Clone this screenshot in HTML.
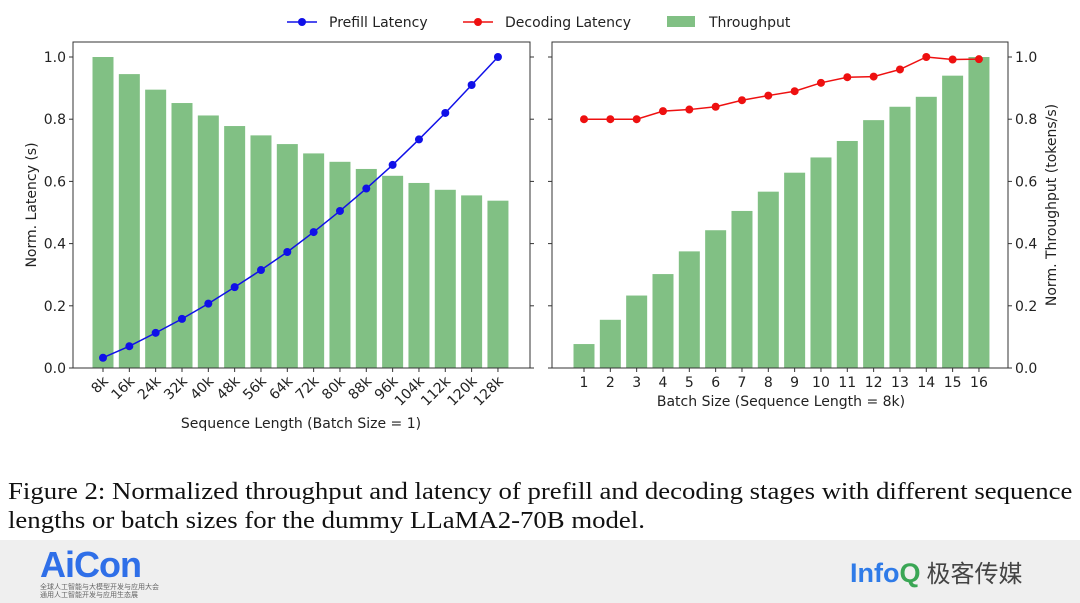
<!DOCTYPE html>
<html><head><meta charset="utf-8"><style>
body{margin:0;width:1080px;height:603px;background:#fff;overflow:hidden;position:relative;font-family:"DejaVu Sans","Liberation Sans",sans-serif}
svg text{font-family:"DejaVu Sans","Liberation Sans",sans-serif;fill:#222}
.cap{position:absolute;left:8px;top:478px;font-family:"Liberation Serif",serif;font-size:24px;line-height:29px;color:#111;white-space:nowrap;transform-origin:0 0;transform:scaleX(1.115)}
.foot{position:absolute;left:0;top:540px;width:1080px;height:63px;background:#efefef}
</style></head><body>
<svg id="chart" width="1080" height="470" style="position:absolute;left:0;top:0"></svg>
<div class="cap">Figure 2: Normalized throughput and latency of prefill and decoding stages with different sequence<br>lengths or batch sizes for the dummy LLaMA2-70B model.</div>
<div class="foot">
<div style="position:absolute;left:40px;top:4px;font:bold 36px 'Liberation Sans',sans-serif;color:#2f6fe8;letter-spacing:-1px">AiCon</div>
<div style="position:absolute;left:40px;top:43px;font:7px 'Noto Sans CJK SC',sans-serif;color:#666;line-height:8px">全球人工智能与大模型开发与应用大会<br>通用人工智能开发与应用生态展</div>
<div style="position:absolute;left:850px;top:14px;font:bold 27px 'Liberation Sans',sans-serif;color:#2f7be8">Info<span style="color:#3aa655">Q</span><span style="font:24px 'Noto Sans CJK SC',sans-serif;color:#444;margin-left:6px">极客传媒</span></div>
</div>
<script>
const seqLabels=["8K","16K","24K","32K","40K","48K","56K","64K","72K","80K","88K","96K","104K","112K","120K","128K"];
const seqThroughput=[1.0,0.945,0.895,0.852,0.812,0.778,0.748,0.72,0.69,0.663,0.64,0.618,0.595,0.573,0.555,0.538];
const prefillLatency=[0.033,0.07,0.113,0.158,0.207,0.26,0.315,0.373,0.437,0.505,0.577,0.653,0.735,0.82,0.91,1.0];
const batchLabels=["1","2","3","4","5","6","7","8","9","10","11","12","13","14","15","16"];
const batchThroughput=[0.077,0.155,0.233,0.302,0.375,0.443,0.505,0.567,0.628,0.677,0.73,0.797,0.84,0.872,0.94,1.0];
const decodingLatency=[0.80,0.80,0.80,0.826,0.831,0.84,0.861,0.876,0.89,0.917,0.935,0.937,0.96,1.0,0.992,0.993];
const yTicks=[0,0.2,0.4,0.6,0.8,1.0];
const svg=document.getElementById('chart');const NS='http://www.w3.org/2000/svg';
function el(t,a,p){const e=document.createElementNS(NS,t);for(const k in a)e.setAttribute(k,a[k]);(p||svg).appendChild(e);return e;}
const y=v=>368-311*v;
function panel(x0,x1,firstX,labels,bars,line,color,side,name){
  const step=26.33,xs=i=>firstX+i*step;
  const g=el('g',{});
  bars.forEach((v,i)=>{const r=el('rect',{x:xs(i)-10.5,y:y(v),width:21,height:368-y(v),fill:'#81c084'},g);
    });
  const p=el('polyline',{points:line.map((v,i)=>xs(i)+','+y(v)).join(' '),fill:'none',stroke:color,'stroke-width':1.5},g);
  
  line.forEach((v,i)=>{const c=el('circle',{cx:xs(i),cy:y(v),r:4,fill:color},g);
    });
  const f=el('rect',{x:x0,y:42,width:x1-x0,height:326,fill:'none',stroke:'#333','stroke-width':1},g);
  
  yTicks.forEach(t=>{el('line',{x1:x0-4,x2:x0,y1:y(t),y2:y(t),stroke:'#333'},g);el('line',{x1:x1,x2:x1+4,y1:y(t),y2:y(t),stroke:'#333'},g);
    if(side==='left'){const tx=el('text',{x:x0-7,y:y(t)+5,'text-anchor':'end','font-size':14},g);tx.textContent=t.toFixed(1);}
    else{const tx=el('text',{x:x1+7,y:y(t)+5,'font-size':14},g);tx.textContent=t.toFixed(1);}});
  labels.forEach((l,i)=>{el('line',{x1:xs(i),x2:xs(i),y1:368,y2:372,stroke:'#333'},g);
    if(side==='left'){const tx=el('text',{x:xs(i)+6,y:382,'text-anchor':'end','font-size':14,transform:`rotate(-45 ${xs(i)+6} 382)`},g);tx.textContent=l.toLowerCase();}
    else{const tx=el('text',{x:xs(i),y:387,'text-anchor':'middle','font-size':14},g);tx.textContent=l;}});
}
panel(73,530,103,seqLabels,seqThroughput,prefillLatency,'#1010e8','left','prefill-panel');
panel(552,1008,584,batchLabels,batchThroughput,decodingLatency,'#ee1010','right','decoding-panel');
let t=el('text',{x:301,y:428,'text-anchor':'middle','font-size':14});t.textContent='Sequence Length (Batch Size = 1)';

t=el('text',{x:781,y:406,'text-anchor':'middle','font-size':14});t.textContent='Batch Size (Sequence Length = 8k)';

t=el('text',{x:0,y:0,'text-anchor':'middle','font-size':14,transform:'translate(36 205) rotate(-90)'});t.textContent='Norm. Latency (s)';

t=el('text',{x:0,y:0,'text-anchor':'middle','font-size':14,transform:'translate(1056 205) rotate(-90)'});t.textContent='Norm. Throughput (tokens/s)';

const lg=el('g',{});
el('line',{x1:287,x2:317,y1:22,y2:22,stroke:'#1010e8','stroke-width':1.5},lg);el('circle',{cx:302,cy:22,r:4,fill:'#1010e8'},lg);
t=el('text',{x:329,y:27,'font-size':14},lg);t.textContent='Prefill Latency';
el('line',{x1:463,x2:493,y1:22,y2:22,stroke:'#ee1010','stroke-width':1.5},lg);el('circle',{cx:478,cy:22,r:4,fill:'#ee1010'},lg);
t=el('text',{x:505,y:27,'font-size':14},lg);t.textContent='Decoding Latency';
el('rect',{x:667,y:16,width:28,height:11,fill:'#81c084'},lg);
t=el('text',{x:709,y:27,'font-size':14},lg);t.textContent='Throughput';
</script>
</body></html>
